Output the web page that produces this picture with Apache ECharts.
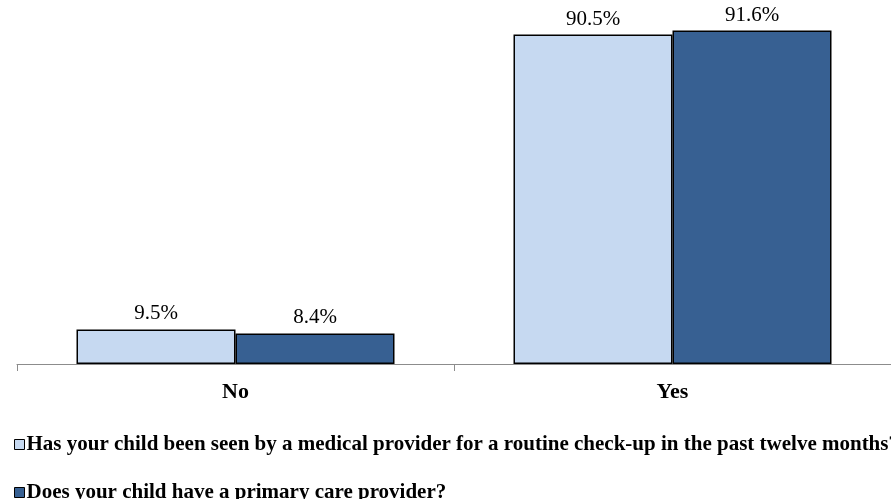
<!DOCTYPE html>
<html>
<head>
<meta charset="utf-8">
<script src="https://cdn.jsdelivr.net/npm/echarts@6/dist/echarts.min.js"></script>
<style>
  html, body { margin: 0; padding: 0; background: #ffffff; }
  #chart { width: 891px; height: 499px; }
</style>
</head>
<body>
<div id="chart"></div>
<script>
// Survey answers grouped by response
const categories = ['No', 'Yes'];
const seriesNames = [
  'Has your child been seen by a medical provider for a routine check-up in the past twelve months?',
  'Does your child have a primary care provider?'
];
const checkupValues = [9.5, 90.5];
const primaryCareValues = [8.4, 91.6];

const serif = '"Liberation Serif", "Times New Roman", serif';
const colors = ['#C6D9F1', '#376092'];

const chart = echarts.init(document.getElementById('chart'));

function barSeries(name, data, color) {
  return {
    name: name,
    type: 'bar',
    data: data,
    barGap: '0%',
    barWidth: 159,
    itemStyle: { color: color, borderColor: '#000000', borderWidth: 1.5 },
    label: {
      show: true,
      position: 'top',
      distance: 5,
      fontFamily: serif,
      fontSize: 21,
      color: '#000000',
      formatter: p => p.value.toFixed(1) + '%'
    },
    emphasis: { disabled: true }
  };
}

// one legend block per series, stacked under the axis
function legendRow(name, top) {
  return {
    orient: 'horizontal',
    left: 9,
    top: top,
    itemWidth: 10,
    itemHeight: 10,
    icon: 'rect',
    itemStyle: { borderColor: '#000000', borderWidth: 1 },
    textStyle: { fontFamily: serif, fontSize: 21, fontWeight: 'bold', color: '#000000', padding: [0, 0, 0, -3] },
    data: [name]
  };
}

chart.setOption({
  animation: false,
  grid: { left: 17, right: -6, top: 0, bottom: 135, containLabel: false },
  legend: [legendRow(seriesNames[0], 429), legendRow(seriesNames[1], 477)],
  xAxis: {
    type: 'category',
    data: categories,
    axisLine: { lineStyle: { color: '#8C8C8C', width: 1 } },
    axisTick: { show: true, length: 7, lineStyle: { color: '#8C8C8C' } },
    axisLabel: { fontFamily: serif, fontSize: 22, fontWeight: 'bold', color: '#000000', margin: 17 }
  },
  yAxis: {
    type: 'value',
    min: 0,
    max: 100,
    show: false,
    splitLine: { show: false }
  },
  series: [
    barSeries(seriesNames[0], checkupValues, colors[0]),
    barSeries(seriesNames[1], primaryCareValues, colors[1])
  ]
});
</script>
</body>
</html>
